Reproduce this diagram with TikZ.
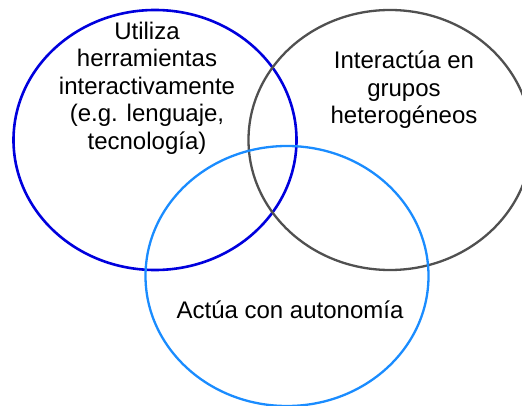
\documentclass[tikz,border=0pt]{standalone}
\usepackage{fontspec}
\setmainfont{Liberation Sans}
\usetikzlibrary{positioning,shapes.geometric}
\definecolor{herr}{HTML}{0000DD}
\definecolor{grup}{HTML}{505050}
\definecolor{auto}{HTML}{1A8CFF}

\begin{document}
\begin{tikzpicture}[
  x=1pt, y=-1pt, font=\fontsize{24}{27.5}\selectfont,
  ring/.style={ellipse, minimum width=283pt, minimum height=260pt, inner sep=0pt},
  label/.style={align=center, inner sep=0pt, text=black}]
\useasboundingbox (0,0) rectangle (522,406);

\node (uti) [ring, draw=herr, line width=2.6pt] at (155,140) {};
\node (int) [ring, draw=grup, line width=2.3pt] at (390,140) {};
\node (act) [ring, draw=auto, line width=2.3pt] at (287,276) {};

\node (utiText) [label] at (147,88) {Utiliza\\herramientas\\interactivamente\\(e.g. lenguaje,\\tecnología)};
\node (intText) [label] at (404,90) {Interactúa en\\grupos\\heterogéneos};
\node (actText) [label, anchor=base] at (290,318) {Actúa con autonomía};
\end{tikzpicture}
\end{document}
